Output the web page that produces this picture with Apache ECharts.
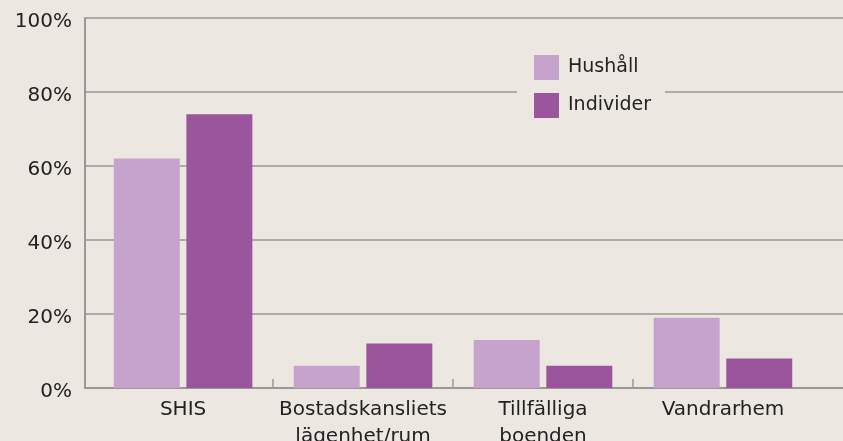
<!DOCTYPE html>
<html><head><meta charset="utf-8">
<script src="https://cdn.jsdelivr.net/npm/echarts@6/dist/echarts.min.js"></script>
<style>html,body{margin:0;padding:0;background:#ece8e1;}#c{width:843px;height:441px;}</style>
</head><body><div id="c"></div>
<script>
const categories = ['SHIS', 'Bostadskansliets\nlägenhet/rum', 'Tillfälliga\nboenden', 'Vandrarhem'];
const hushall = [62, 6, 13, 19];
const individer = [74, 12, 6, 8];
const yTicks = [0, 20, 40, 60, 80, 100];
const seriesNames = ['Hushåll', 'Individer'];

const font = 'DejaVu Sans';
const chart = echarts.init(document.getElementById('c'));
chart.setOption({
  backgroundColor: '#ece8e1',
  animation: false,
  textStyle: { fontFamily: font },
  grid: { left: 85, right: 0, top: 18, bottom: 53, containLabel: false, outerBoundsMode: 'none' },
  legend: {
    orient: 'vertical', left: 517, top: 47,
    backgroundColor: '#ece8e1',
    padding: [8, 14, 8, 17],
    itemWidth: 25, itemHeight: 25, itemGap: 13,
    icon: 'rect',
    textStyle: { fontSize: 19, color: '#222', fontFamily: font, padding: [0, 0, 0, 4] },
    data: seriesNames
  },
  xAxis: {
    type: 'value', min: -0.545, max: 3.667,
    splitLine: { show: false },
    axisLine: { show: true, onZero: false, lineStyle: { color: '#9a9894', width: 2 } },
    axisTick: { show: true, inside: true, length: 9, customValues: [0.5, 1.5, 2.5], lineStyle: { color: '#9a9894', width: 1.5 } },
    axisLabel: {
      customValues: categories.map((c, i) => i),
      formatter: v => categories[Math.round(v)],
      fontSize: 20, color: '#222', lineHeight: 27, margin: 8, fontFamily: font
    }
  },
  yAxis: {
    type: 'value', min: yTicks[0], max: yTicks[yTicks.length - 1], interval: 20,
    axisLine: { show: true, onZero: false, lineStyle: { color: '#9a9894', width: 2 } },
    axisTick: { show: false },
    splitLine: { lineStyle: { color: '#9a9894', width: 1.5 } },
    axisLabel: { formatter: '{value}%', fontSize: 20, color: '#222', margin: 13, verticalAlign: 'top', lineHeight: 8, fontFamily: font }
  },
  series: [
    { name: seriesNames[0], type: 'bar', barWidth: 66, barGap: '10%', itemStyle: { color: '#c6a3cd' },
      data: hushall.map((v, i) => [i, v]) },
    { name: seriesNames[1], type: 'bar', barWidth: 66, barGap: '10%', itemStyle: { color: '#9b559c' },
      data: individer.map((v, i) => [i, v]) }
  ]
});
</script></body></html>
